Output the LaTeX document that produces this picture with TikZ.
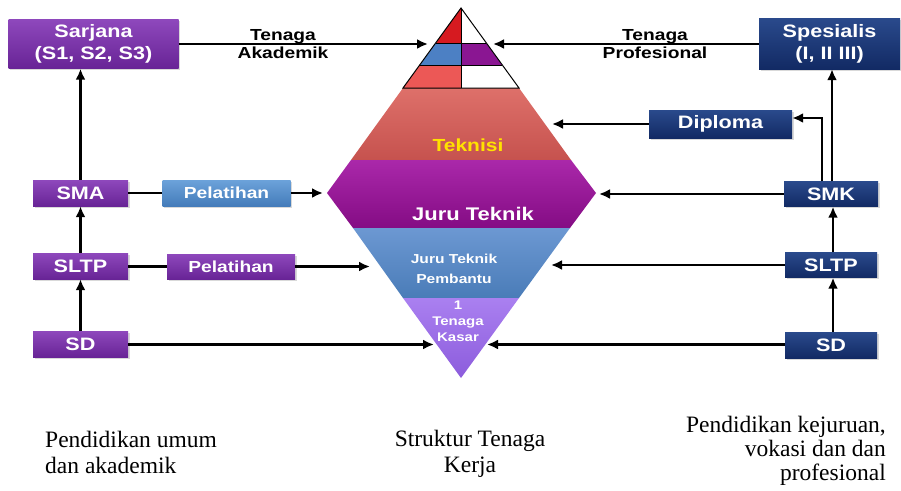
\documentclass[tikz,border=0pt]{standalone}
\usepackage{fontspec}
\setmainfont{Liberation Serif}
\newfontfamily\boxfont{Liberation Sans}[FakeStretch=1.2]
\usetikzlibrary{arrows.meta,shadows}

% box fills
\definecolor{umumTop}{RGB}{142,72,188}
\definecolor{umumBot}{RGB}{104,36,150}
\definecolor{vokTop}{RGB}{42,74,140}
\definecolor{vokBot}{RGB}{18,42,100}
\definecolor{latTop}{RGB}{108,162,218}
\definecolor{latBot}{RGB}{68,124,186}
% workforce bands
\definecolor{tekTop}{RGB}{222,112,106}
\definecolor{tekBot}{RGB}{198,82,78}
\definecolor{juruTop}{RGB}{170,40,170}
\definecolor{juruBot}{RGB}{132,12,132}
\definecolor{pemTop}{RGB}{108,152,210}
\definecolor{pemBot}{RGB}{74,124,184}
\definecolor{kasTop}{RGB}{170,128,240}
\definecolor{kasBot}{RGB}{140,92,220}
% apex pyramid
\definecolor{apexRed}{RGB}{214,26,32}
\definecolor{apexBlue}{RGB}{76,128,196}
\definecolor{apexPurple}{RGB}{138,22,146}
\definecolor{apexSalmon}{RGB}{236,88,86}
\definecolor{tekText}{RGB}{255,226,0}

\begin{document}
\begin{tikzpicture}[x=1pt,y=-1pt,
  boxbase/.style={inner sep=0pt, align=center, text=white,
    font=\boxfont\bfseries\fontsize{18}{22}\selectfont,
    drop shadow={shadow xshift=1.5pt, shadow yshift=-1.5pt, opacity=0.3}},
  umum/.style={boxbase, top color=umumTop, bottom color=umumBot},
  vok/.style={boxbase, top color=vokTop, bottom color=vokBot},
  latih/.style={umum, font=\boxfont\bfseries\fontsize{16}{18}\selectfont},
  latihblue/.style={latih, top color=latTop, bottom color=latBot},
  small/.style={minimum width=95pt, minimum height=26pt},
  conn/.style={line width=2.6pt, black},
  arr/.style={conn, -{Latex[length=11pt,width=10pt]}},
  flowlabel/.style={align=center, inner sep=0pt, text=black,
    font=\boxfont\bfseries\fontsize{16}{18}\selectfont},
  bandtext/.style={align=center, inner sep=0pt, text=white, font=\boxfont\bfseries},
  caption/.style={inner sep=0pt, font=\fontsize{23.5}{26}\selectfont}
]
\useasboundingbox (0,0) rectangle (901,490);

% ---------- workforce structure (hexagon of bands) ----------
\shade[top color=tekTop, bottom color=tekBot]
  (403,88) -- (519,88) -- (571,160) -- (351,160) -- cycle;
\shade[top color=juruTop, bottom color=juruBot]
  (351,160) -- (571,160) -- (596,193) -- (570,228) -- (353,228) -- (327,193) -- cycle;
\shade[top color=pemTop, bottom color=pemBot]
  (353,228) -- (570,228) -- (519,298) -- (403,298) -- cycle;
\shade[top color=kasTop, bottom color=kasBot]
  (403,298) -- (519,298) -- (461,378) -- cycle;

% apex pyramid
\fill[apexRed] (461,8) -- (436,43) -- (461,43) -- cycle;
\fill[white] (461,8) -- (486,43) -- (461,43) -- cycle;
\fill[apexBlue] (436,43) -- (420,65) -- (461,65) -- (461,43) -- cycle;
\fill[apexPurple] (461,43) -- (486,43) -- (502,65) -- (461,65) -- cycle;
\fill[apexSalmon] (420,65) -- (403,88) -- (461,88) -- (461,65) -- cycle;
\fill[white] (461,65) -- (502,65) -- (519,88) -- (461,88) -- cycle;
\draw[line width=1pt] (461,8) -- (403,88) -- (519,88) -- cycle;
\draw[line width=1pt] (436,43) -- (486,43) (420,65) -- (502,65) (461,8) -- (461,88);

\node[bandtext, text=tekText, font=\boxfont\bfseries\fontsize{17.5}{20}\selectfont] (teknisi) at (468,145.7) {Teknisi};
\node[bandtext, font=\boxfont\bfseries\fontsize{18.3}{20}\selectfont] (juru) at (473,213.5) {Juru Teknik};
\node[bandtext, font=\boxfont\bfseries\fontsize{13}{20}\selectfont] (pembantu) at (454,268.4) {Juru Teknik\\Pembantu};
\node[bandtext, font=\boxfont\bfseries\fontsize{12.5}{16}\selectfont] (kasar) at (458,321.5) {1\\Tenaga\\Kasar};

% ---------- general / academic education ----------
\node[umum, minimum width=170pt, minimum height=49pt] (sarjana) at (93.5,44) {Sarjana\\(S1, S2, S3)};
\node[umum, small] (sma) at (80.5,193) {SMA};
\node[umum, small] (sltpL) at (80.5,266) {SLTP};
\node[umum, small] (sdL) at (80.5,344) {SD};
\node[latihblue, minimum width=128pt, minimum height=26pt] (lat1) at (226.5,193) {Pelatihan};
\node[latih, minimum width=128pt, minimum height=25pt] (lat2) at (231,266.5) {Pelatihan};

% ---------- vocational / professional education ----------
\node[vok, minimum width=141pt, minimum height=51pt] (spesialis) at (829.5,43.5) {Spesialis\\(I, II III)};
\node[vok, minimum width=143pt, minimum height=28pt] (diploma) at (720.5,124) {Diploma};
\node[vok, minimum width=94pt, minimum height=25pt] (smk) at (831,194) {SMK};
\node[vok, minimum width=92pt, minimum height=25pt] (sltpR) at (831,265) {SLTP};
\node[vok, minimum width=92pt, minimum height=26pt] (sdR) at (831,345) {SD};

% arrow end points on the structure
\coordinate (tAkad) at (428,44);
\coordinate (tProf) at (493,44);
\coordinate (tTek) at (552,124);
\coordinate (tJuruL) at (323,193);
\coordinate (tJuruR) at (599,194);
\coordinate (tPemL) at (370,266.5);
\coordinate (tPemR) at (551,265);
\coordinate (tKasL) at (434,344.5);
\coordinate (tKasR) at (487,344.5);

% ---------- connectors ----------
\draw[arr] (sarjana.east |- tAkad) -- (tAkad);
\draw[arr] (spesialis.west |- tProf) -- (tProf);
\node[flowlabel] (lblAkad) at (283,44.2) {Tenaga\\Akademik};
\node[flowlabel] (lblProf) at (655,44.2) {Tenaga\\Profesional};

\draw[arr] (sdL) -- (sltpL);
\draw[arr] (sltpL) -- (sma);
\draw[arr] (sma.north) -- (sma.north |- sarjana.south);
\draw[conn] (sma) -- (lat1);
\draw[arr] (lat1) -- (tJuruL);
\draw[conn] (sltpL.east |- lat2) -- (lat2);
\draw[arr] (lat2) -- (tPemL);
\draw[arr] (sdL.east |- tKasL) -- (tKasL);

\draw[arr] (diploma.west |- tTek) -- (tTek);
\draw[arr] ([xshift=-9pt]smk.north) |- ([yshift=6pt]diploma.east);
\draw[arr] ([xshift=1pt]smk.north) -- ([xshift=1pt]smk.north |- spesialis.south);
\draw[arr] (smk.west |- tJuruR) -- (tJuruR);
\draw[arr] (sltpR.west |- tPemR) -- (tPemR);
\draw[arr] (sdR.west |- tKasR) -- (tKasR);
\draw[arr] ([xshift=2pt]sdR.north) -- ([xshift=2pt]sltpR.south);
\draw[arr] ([xshift=2pt]sltpR.north) -- ([xshift=2pt]smk.south);

% ---------- captions ----------
\node[caption, anchor=north west, align=left] (capUmum) at (45,431) {Pendidikan umum\\dan akademik};
\node[caption, anchor=north, align=center] (capStruktur) at (470,430) {Struktur Tenaga\\Kerja};
\node[caption, anchor=north east, align=right, font=\fontsize{23.5}{24}\selectfont] (capVokasi) at (886,416) {Pendidikan kejuruan,\\vokasi dan dan\\profesional};
\end{tikzpicture}
\end{document}
